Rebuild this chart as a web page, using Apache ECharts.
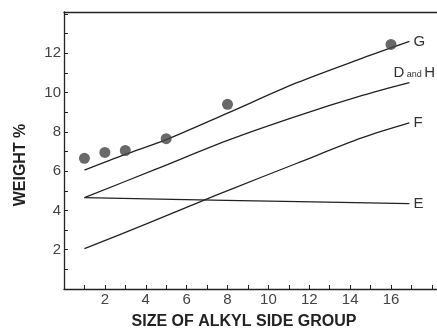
<!DOCTYPE html>
<html>
<head>
<meta charset="utf-8">
<script src="https://cdn.jsdelivr.net/npm/echarts@6/dist/echarts.min.js"></script>
<style>
  html, body { margin: 0; padding: 0; background: #fff; }
  #chart { width: 437px; height: 335px; }
</style>
</head>
<body>
<div id="chart"></div>
<script>
// curve G (line through the measured points)
const gLine = [[1, 6.05], [3, 6.85], [5, 7.6], [8, 8.95], [11.4, 10.5], [14.6, 11.75], [16.9, 12.6]];
// measured points on G
const gPoints = [[1, 6.65], [2, 6.95], [3, 7.05], [5, 7.65], [8, 9.4], [16, 12.45]];
// curve D and H
const dhLine = [[1, 4.65], [4.5, 6.1], [8.1, 7.6], [11.4, 8.8], [14.6, 9.85], [16.9, 10.5]];
// curve F
const fLine = [[1, 2.05], [4, 3.3], [6.8, 4.5], [8.1, 5.05], [11.4, 6.4], [14.6, 7.7], [16.9, 8.45]];
// curve E
const eLine = [[1, 4.65], [8.6, 4.5], [16.9, 4.35]];

const xLabels = [2, 4, 6, 8, 10, 12, 14, 16];
const yLabels = [2, 4, 6, 8, 10, 12];

const font = '"Liberation Sans", Arial, Helvetica, sans-serif';
const ink = '#222';

const chart = echarts.init(document.getElementById('chart'), null, { renderer: 'canvas' });

function lineSeries(name, data, label) {
  return {
    name: name,
    type: 'line',
    data: data,
    smooth: 0.3,
    symbol: 'none',
    lineStyle: { color: ink, width: 1.3 },
    endLabel: Object.assign({
      show: true,
      color: '#333',
      fontFamily: font,
      fontSize: 15,
      distance: 4
    }, label),
    z: 2
  };
}

const option = {
  animation: false,
  backgroundColor: '#fff',
  grid: { left: 64, right: 0, top: 12, bottom: 41, containLabel: false },
  xAxis: [{
    type: 'value',
    min: 0,
    max: 18.25,
    interval: 1,
    name: 'SIZE OF ALKYL SIDE GROUP',
    nameLocation: 'middle',
    nameGap: 25,
    nameTextStyle: { fontFamily: font, fontSize: 16, fontWeight: 'bold', color: ink, padding: [0, 13, 0, 0] },
    axisLine: { lineStyle: { color: ink, width: 1.3 } },
    axisTick: { inside: true, length: 4, lineStyle: { color: ink } },
    axisLabel: {
      margin: 3,
      fontFamily: font,
      fontSize: 15,
      color: '#444',
      showMaxLabel: false,
      formatter: v => (xLabels.includes(v) ? String(v) : '')
    },
    splitLine: { show: false }
  }, {
    type: 'value',
    position: 'top',
    min: 0,
    max: 18.25,
    axisLine: { show: true, lineStyle: { color: ink, width: 1.3 } },
    axisTick: { show: false },
    axisLabel: { show: false },
    splitLine: { show: false }
  }],
  yAxis: {
    type: 'value',
    min: 0,
    max: 14.1,
    interval: 1,
    name: 'WEIGHT %',
    nameLocation: 'middle',
    nameGap: 35,
    nameTextStyle: { fontFamily: font, fontSize: 16, fontWeight: 'bold', color: ink, padding: [0, 29, 0, 0] },
    axisLine: { show: true, lineStyle: { color: ink, width: 1.3 } },
    axisTick: { inside: true, length: 4, lineStyle: { color: ink } },
    axisLabel: {
      margin: 3,
      fontFamily: font,
      fontSize: 15,
      color: '#444',
      showMaxLabel: false,
      formatter: v => (yLabels.includes(v) ? String(v) : '')
    },
    splitLine: { show: false }
  },
  series: [
    lineSeries('G', gLine, { formatter: 'G' }),
    lineSeries('D and H', dhLine, {
      formatter: '{b|D}{s| and }{b|H}',
      offset: [-20, -10],
      rich: {
        b: { fontFamily: font, fontSize: 15, color: '#333' },
        s: { fontFamily: font, fontSize: 9, color: '#333', padding: [4, 0, 0, 0] }
      }
    }),
    lineSeries('F', fLine, { formatter: 'F' }),
    lineSeries('E', eLine, { formatter: 'E' }),
    {
      name: 'G points',
      type: 'scatter',
      data: gPoints,
      symbol: 'circle',
      symbolSize: 11,
      itemStyle: { color: '#444' },
      z: 3
    }
  ]
};

chart.setOption(option);
</script>
</body>
</html>
